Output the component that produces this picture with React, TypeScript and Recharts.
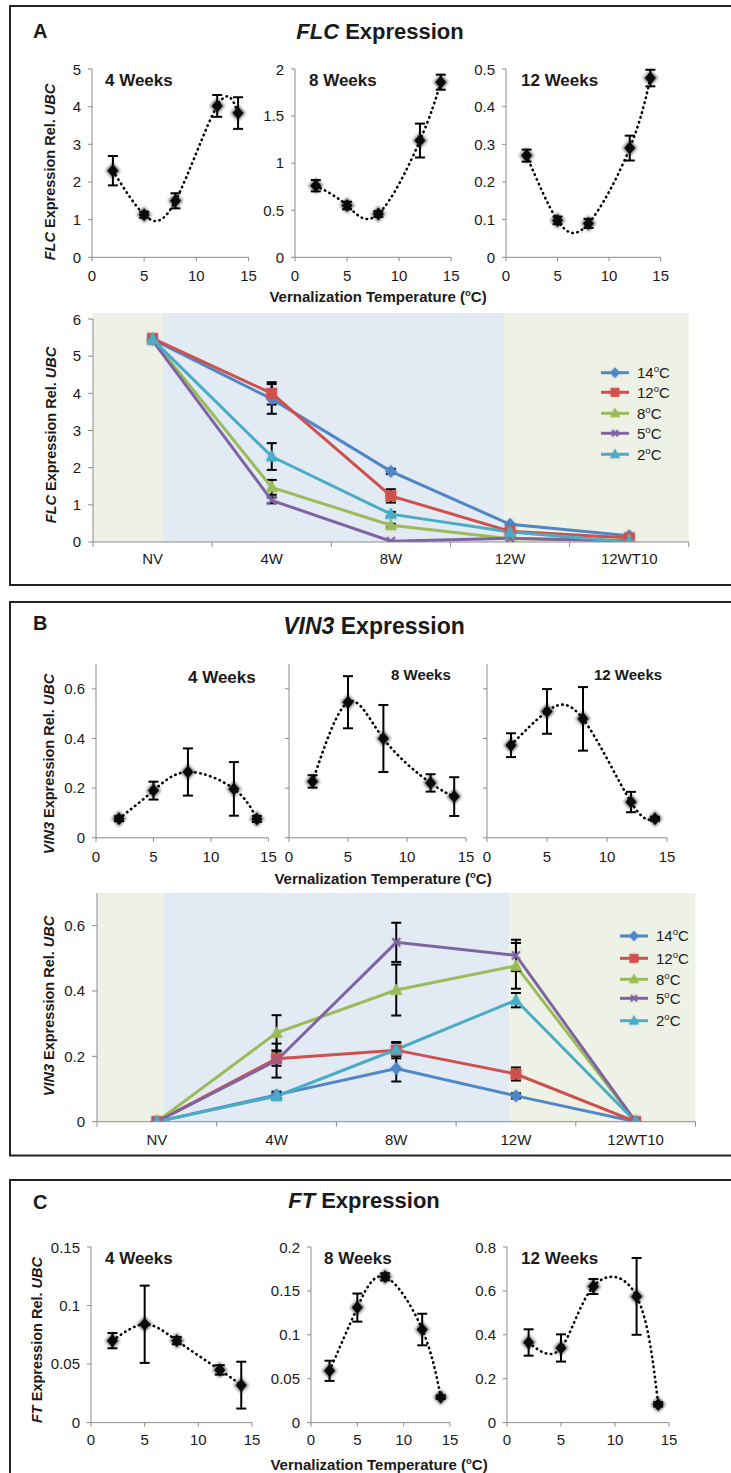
import React from 'react';
import { LineChart, Line, XAxis, YAxis, ErrorBar, ReferenceArea } from 'recharts';

const FONT = '"Liberation Sans", Arial, Helvetica, sans-serif';
const INK = '#1a1a1a';
const AXIS = '#8c8c8c';
const BG_GREEN = '#EEF2E6';
const BG_BLUE = '#E2EAF4';

// vernalization temperatures (ºC) of the small panels
const TEMPS = [2, 5, 8, 12, 14];

const FLC_4W = [2.3, 1.13, 1.5, 4.02, 3.83];
const FLC_4W_ERR = [0.39, 0.08, 0.2, 0.29, 0.42];
const FLC_8W = [0.76, 0.55, 0.46, 1.24, 1.86];
const FLC_8W_ERR = [0.06, 0.04, 0.03, 0.18, 0.08];
const FLC_12W = [0.27, 0.098, 0.09, 0.29, 0.476];
const FLC_12W_ERR = [0.016, 0.01, 0.012, 0.033, 0.022];

const VIN3_4W = [0.077, 0.19, 0.265, 0.197, 0.076];
const VIN3_4W_ERR = [0.01, 0.036, 0.095, 0.108, 0.012];
const VIN3_8W = [0.227, 0.546, 0.4, 0.221, 0.166];
const VIN3_8W_ERR = [0.025, 0.105, 0.135, 0.035, 0.078];
const VIN3_12W = [0.373, 0.509, 0.479, 0.144, 0.077];
const VIN3_12W_ERR = [0.048, 0.09, 0.128, 0.041, 0.008];

const FT_4W = [0.07, 0.084, 0.07, 0.045, 0.032];
const FT_4W_ERR = [0.0065, 0.033, 0.003, 0.004, 0.02];
const FT_8W = [0.059, 0.131, 0.166, 0.106, 0.029];
const FT_8W_ERR = [0.0115, 0.016, 0.004, 0.018, 0.002];
const FT_12W = [0.365, 0.34, 0.62, 0.575, 0.083];
const FT_12W_ERR = [0.06, 0.062, 0.034, 0.175, 0.01];

// time course panels
const STAGES = ['NV', '4W', '8W', '12W', '12WT10'];
const SERIES_NAMES = ['14', '12', '8', '5', '2'];
const COLORS = ['#4F86C6', '#D0504D', '#9BBB59', '#8064A2', '#4BACC6'];
const MARKERS = ['diamond', 'square', 'triangle', 'cross', 'triangle'];

const FLC_TC_14 = [5.45, 3.85, 1.9, 0.476, 0.17];
const FLC_TC_14_ERR = [0, 0.4, 0.07, 0, 0];
const FLC_TC_12 = [5.48, 4.0, 1.24, 0.29, 0.11];
const FLC_TC_12_ERR = [0, 0.3, 0.18, 0, 0];
const FLC_TC_8 = [5.45, 1.47, 0.45, 0.09, 0.05];
const FLC_TC_8_ERR = [0, 0.2, 0.04, 0, 0];
const FLC_TC_5 = [5.42, 1.12, 0.02, 0.1, 0.03];
const FLC_TC_5_ERR = [0, 0.08, 0, 0, 0];
const FLC_TC_2 = [5.45, 2.3, 0.75, 0.27, 0.0];
const FLC_TC_2_ERR = [0, 0.36, 0.06, 0, 0];

const VIN3_TC_14 = [0, 0.082, 0.163, 0.079, 0];
const VIN3_TC_14_ERR = [0, 0.01, 0.04, 0.008, 0];
const VIN3_TC_12 = [0, 0.193, 0.219, 0.146, 0];
const VIN3_TC_12_ERR = [0, 0.022, 0.025, 0.02, 0];
const VIN3_TC_8 = [0, 0.272, 0.403, 0.477, 0];
const VIN3_TC_8_ERR = [0, 0.054, 0.078, 0.07, 0];
const VIN3_TC_5 = [0, 0.187, 0.549, 0.509, 0];
const VIN3_TC_5_ERR = [0, 0.052, 0.06, 0.048, 0];
const VIN3_TC_2 = [0, 0.078, 0.221, 0.372, 0];
const VIN3_TC_2_ERR = [0, 0.01, 0.02, 0.022, 0];

const FLC_SERIES = [
  [FLC_TC_14, FLC_TC_14_ERR],
  [FLC_TC_12, FLC_TC_12_ERR],
  [FLC_TC_8, FLC_TC_8_ERR],
  [FLC_TC_5, FLC_TC_5_ERR],
  [FLC_TC_2, FLC_TC_2_ERR],
];
const VIN3_SERIES = [
  [VIN3_TC_14, VIN3_TC_14_ERR],
  [VIN3_TC_12, VIN3_TC_12_ERR],
  [VIN3_TC_8, VIN3_TC_8_ERR],
  [VIN3_TC_5, VIN3_TC_5_ERR],
  [VIN3_TC_2, VIN3_TC_2_ERR],
];

const tickStyle = { fontSize: 15, fill: INK, fontFamily: FONT };

function Marker({ cx, cy, shape, color, s = 5 }: any) {
  if (cx == null || cy == null) return null;
  let el: any;
  if (shape === 'diamond') el = <path d={`M${cx} ${cy - s - 1}L${cx + s + 0.5} ${cy}L${cx} ${cy + s + 1}L${cx - s - 0.5} ${cy}Z`} />;
  else if (shape === 'square') el = <rect x={cx - s} y={cy - s} width={2 * s} height={2 * s} />;
  else if (shape === 'triangle') el = <path d={`M${cx} ${cy - s - 1}L${cx + s + 0.5} ${cy + s - 0.5}L${cx - s - 0.5} ${cy + s - 0.5}Z`} />;
  else el = <path d={`M${cx - s + 1} ${cy - s + 1}L${cx + s - 1} ${cy + s - 1}M${cx + s - 1} ${cy - s + 1}L${cx - s + 1} ${cy + s - 1}`} fill="none" strokeWidth={2} />;
  return (
    <g fill={color} stroke={color} strokeWidth={0.8}>
      <g filter="url(#soft)" opacity={0.45}>{el}</g>
      {el}
    </g>
  );
}

function BlackDot({ cx, cy }: any) {
  if (cx == null || cy == null) return null;
  const d = (w: number, h: number) => `M${cx} ${cy - h}L${cx + w} ${cy}L${cx} ${cy + h}L${cx - w} ${cy}Z`;
  return (
    <g>
      <path d={d(7.5, 8)} fill="#000" opacity={0.55} filter="url(#soft)" />
      <path d={d(5.5, 6.5)} fill="#0a0a0a" />
    </g>
  );
}

function MiniChart({ x0, x1, y0, y1, ymax, yticks, labels, values, errors, xGap }: any) {
  const YW = 50, MT = 8, MR = 16, XH = 34;
  const data = TEMPS.map((t, i) => ({ t, v: values[i], e: errors[i] }));
  return (
    <div style={{ position: 'absolute', left: x0 - YW, top: y0 - MT }}>
      <LineChart width={YW + (x1 - x0) + MR} height={MT + (y1 - y0) + XH} data={data}
        margin={{ top: MT, right: MR, bottom: 0, left: 0 }}>
        <XAxis dataKey="t" type="number" domain={[0, 15]} ticks={[0, 5, 10, 15]} height={XH}
          tick={tickStyle} tickSize={4} tickMargin={xGap} stroke={AXIS} allowDataOverflow />
        <YAxis type="number" domain={[0, ymax]} ticks={yticks} width={YW} tick={tickStyle}
          tickSize={4} tickMargin={7} stroke={AXIS} allowDataOverflow
          tickFormatter={labels ? undefined : () => ''} />
        <Line type="natural" dataKey="v" stroke="#000" strokeWidth={2.6} strokeDasharray="0.5 4.6"
          strokeLinecap="round" dot={(p: any) => <BlackDot key={p.index} cx={p.cx} cy={p.cy} />}
          activeDot={false} isAnimationActive={false}>
          <ErrorBar dataKey="e" direction="y" width={5} stroke="#000" strokeWidth={2} />
        </Line>
      </LineChart>
    </div>
  );
}

function TimeCourse({ x0, x1, y0, y1, ymax, yticks, bgTop, cuts, series, xGap }: any) {
  const YW = 50, MT = 8, MR = 10, XH = 34;
  const band = (x1 - x0) / STAGES.length;
  const data = STAGES.map((s, i) => {
    const row: any = { x: i + 0.5, stage: s };
    series.forEach((se: any, k: number) => {
      row['v' + k] = se[0][i];
      row['e' + k] = se[1][i];
    });
    return row;
  });
  const StageTick = (p: any) => {
    const i = p.payload.value;
    if (i >= STAGES.length) return <g />;
    return (
      <text x={p.x + band / 2} y={p.y} dy="0.71em" textAnchor="middle" fontSize={15} fill={INK} fontFamily={FONT}>
        {STAGES[i]}
      </text>
    );
  };
  return (
    <div style={{ position: 'absolute', left: x0 - YW, top: y0 - MT }}>
      <LineChart width={YW + (x1 - x0) + MR} height={MT + (y1 - y0) + XH} data={data}
        margin={{ top: MT, right: MR, bottom: 0, left: 0 }}>
        <ReferenceArea x1={0} x2={cuts[0]} y1={0} y2={bgTop} fill={BG_GREEN} fillOpacity={1} stroke="none" ifOverflow="visible" />
        <ReferenceArea x1={cuts[0]} x2={cuts[1]} y1={0} y2={bgTop} fill={BG_BLUE} fillOpacity={1} stroke="none" ifOverflow="visible" />
        <ReferenceArea x1={cuts[1]} x2={5} y1={0} y2={bgTop} fill={BG_GREEN} fillOpacity={1} stroke="none" ifOverflow="visible" />
        <XAxis dataKey="x" type="number" domain={[0, 5]} ticks={[0, 1, 2, 3, 4, 5]} height={XH}
          tick={StageTick} tickSize={5} tickMargin={xGap} stroke={AXIS} allowDataOverflow />
        <YAxis type="number" domain={[0, ymax]} ticks={yticks} width={YW} tick={tickStyle}
          tickSize={5} tickMargin={7} stroke={AXIS} allowDataOverflow />
        {series.map((se: any, k: number) => (
          <Line key={k} type="linear" dataKey={'v' + k} stroke={COLORS[k]} strokeWidth={3}
            dot={(p: any) => <Marker key={p.index} cx={p.cx} cy={p.cy} shape={MARKERS[k]} color={COLORS[k]} />}
            activeDot={false} isAnimationActive={false}>
            <ErrorBar dataKey={'e' + k} direction="y" width={5} stroke="#000" strokeWidth={2} />
          </Line>
        ))}
      </LineChart>
    </div>
  );
}

function Legend({ x, ys }: any) {
  return (
    <g>
      {SERIES_NAMES.map((n, k) => (
        <g key={n}>
          <line x1={x} x2={x + 28} y1={ys[k]} y2={ys[k]} stroke={COLORS[k]} strokeWidth={3} />
          <Marker cx={x + 14} cy={ys[k]} shape={MARKERS[k]} color={COLORS[k]} s={4} />
          <text x={x + 36} y={ys[k]} dy="0.36em" fontSize={15} fill={INK}>
            {n}<tspan fontSize={9.5} dy={-6}>o</tspan><tspan dy={6}>C</tspan>
          </text>
        </g>
      ))}
    </g>
  );
}

function YTitle({ cx, cy, gene }: any) {
  return (
    <text transform={`translate(${cx},${cy}) rotate(-90)`} textAnchor="middle" dy="0.36em"
      fontSize={14.5} fontWeight="bold" fill={INK}>
      <tspan fontStyle="italic">{gene}</tspan> Expression Rel. <tspan fontStyle="italic">UBC</tspan>
    </text>
  );
}

function XTitle({ cx, y }: any) {
  return (
    <text x={cx} y={y} textAnchor="middle" fontSize={15} fontWeight="bold" fill={INK}>
      Vernalization Temperature (<tspan fontSize={9.5} dy={-6}>o</tspan><tspan dy={6}>C)</tspan>
    </text>
  );
}

function Weeks({ x, y, size, label }: any) {
  return <text x={x} y={y} fontSize={size} fontWeight="bold" fill={INK}>{label}</text>;
}

export default function App() {
  const aY = [69, 257.3];
  const bY = [663.5, 837.3];
  const cY = [1246.7, 1422.3];
  return (
    <div style={{ position: 'absolute', left: 0, top: 0, width: 731, height: 1473, overflow: 'hidden', background: '#fff', fontFamily: FONT }}>
      {/* A: FLC */}
      <MiniChart x0={92} x1={248.5} y0={aY[0]} y1={aY[1]} ymax={5} yticks={[0, 1, 2, 3, 4, 5]} labels values={FLC_4W} errors={FLC_4W_ERR} xGap={9} />
      <MiniChart x0={294.6} x1={450.8} y0={aY[0]} y1={aY[1]} ymax={2} yticks={[0, 0.5, 1, 1.5, 2]} labels values={FLC_8W} errors={FLC_8W_ERR} xGap={9} />
      <MiniChart x0={506.3} x1={661} y0={aY[0]} y1={aY[1]} ymax={0.5} yticks={[0, 0.1, 0.2, 0.3, 0.4, 0.5]} labels values={FLC_12W} errors={FLC_12W_ERR} xGap={9} />
      <TimeCourse x0={93.2} x1={689} y0={318.7} y1={541.7} ymax={6} yticks={[0, 1, 2, 3, 4, 5, 6]} bgTop={6.16}
        cuts={[0.587, 3.45]} series={FLC_SERIES} xGap={6} />

      {/* B: VIN3 */}
      <MiniChart x0={95.6} x1={268} y0={bY[0]} y1={bY[1]} ymax={0.7} yticks={[0, 0.2, 0.4, 0.6]} labels values={VIN3_4W} errors={VIN3_4W_ERR} xGap={10} />
      <MiniChart x0={289} x1={466} y0={bY[0]} y1={bY[1]} ymax={0.7} yticks={[0, 0.2, 0.4, 0.6]} labels={false} values={VIN3_8W} errors={VIN3_8W_ERR} xGap={10} />
      <MiniChart x0={487} x1={667} y0={bY[0]} y1={bY[1]} ymax={0.7} yticks={[0, 0.2, 0.4, 0.6]} labels={false} values={VIN3_12W} errors={VIN3_12W_ERR} xGap={10} />
      <TimeCourse x0={96.5} x1={695} y0={893} y1={1121.7} ymax={0.7} yticks={[0, 0.2, 0.4, 0.6]} bgTop={0.7}
        cuts={[0.556, 3.446]} series={VIN3_SERIES} xGap={8} />

      {/* C: FT */}
      <MiniChart x0={91} x1={252} y0={cY[0]} y1={cY[1]} ymax={0.15} yticks={[0, 0.05, 0.1, 0.15]} labels values={FT_4W} errors={FT_4W_ERR} xGap={8} />
      <MiniChart x0={311} x1={450} y0={cY[0]} y1={cY[1]} ymax={0.2} yticks={[0, 0.05, 0.1, 0.15, 0.2]} labels values={FT_8W} errors={FT_8W_ERR} xGap={8} />
      <MiniChart x0={507} x1={669} y0={cY[0]} y1={cY[1]} ymax={0.8} yticks={[0, 0.2, 0.4, 0.6, 0.8]} labels values={FT_12W} errors={FT_12W_ERR} xGap={8} />

      <svg width={731} height={1473} style={{ position: 'absolute', left: 0, top: 0, pointerEvents: 'none' }} fontFamily={FONT}>
        <defs>
          <filter id="soft" x="-60%" y="-60%" width="220%" height="220%">
            <feGaussianBlur stdDeviation="1.8" />
          </filter>
        </defs>
        {/* panel frames */}
        <path d="M745 6H10V585H745" fill="none" stroke="#222" strokeWidth={2} />
        <path d="M745 602H10V1155.5H745" fill="none" stroke="#222" strokeWidth={2} />
        <path d="M745 1180H10V1490" fill="none" stroke="#222" strokeWidth={2} />

        {/* A texts */}
        <text x={33} y={37.5} fontSize={20} fontWeight="bold" fill={INK}>A</text>
        <text x={380} y={38.5} textAnchor="middle" fontSize={22} fontWeight="bold" fill={INK}>
          <tspan fontStyle="italic">FLC</tspan> Expression
        </text>
        <Weeks x={105} y={86} size={17} label="4 Weeks" />
        <Weeks x={309} y={86} size={17} label="8 Weeks" />
        <Weeks x={521} y={86} size={17} label="12 Weeks" />
        <YTitle cx={50} cy={172} gene="FLC" />
        <XTitle cx={378} y={302} />
        <YTitle cx={51} cy={435} gene="FLC" />
        <Legend x={601} ys={[372.7, 392.3, 413.3, 433.3, 454.3]} />

        {/* B texts */}
        <text x={33} y={630} fontSize={20} fontWeight="bold" fill={INK}>B</text>
        <text x={374} y={634} textAnchor="middle" fontSize={23} fontWeight="bold" fill={INK}>
          <tspan fontStyle="italic">VIN3</tspan> Expression
        </text>
        <Weeks x={188} y={683} size={17} label="4 Weeks" />
        <Weeks x={391} y={680} size={15} label="8 Weeks" />
        <Weeks x={594} y={680} size={15} label="12 Weeks" />
        <YTitle cx={49} cy={764} gene="VIN3" />
        <XTitle cx={383} y={884} />
        <YTitle cx={49} cy={1006} gene="VIN3" />
        <Legend x={620} ys={[936, 958.3, 979.3, 998.3, 1020.7]} />

        {/* C texts */}
        <text x={33} y={1209} fontSize={20} fontWeight="bold" fill={INK}>C</text>
        <text x={364} y={1208} textAnchor="middle" fontSize={22} fontWeight="bold" fill={INK}>
          <tspan fontStyle="italic">FT</tspan> Expression
        </text>
        <Weeks x={105} y={1264} size={17} label="4 Weeks" />
        <Weeks x={324} y={1264} size={17} label="8 Weeks" />
        <Weeks x={521} y={1264} size={17} label="12 Weeks" />
        <YTitle cx={37} cy={1340} gene="FT" />
        <XTitle cx={379} y={1470} />
      </svg>
    </div>
  );
}
